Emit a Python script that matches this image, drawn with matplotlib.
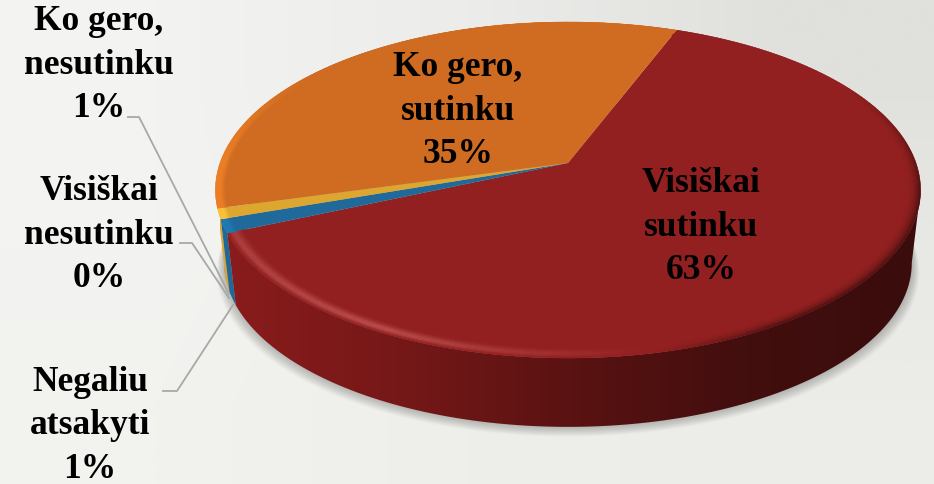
import numpy as np
import matplotlib
matplotlib.use("Agg")
import matplotlib.pyplot as plt
from matplotlib.collections import PolyCollection
from matplotlib.colors import LinearSegmentedColormap, to_rgb
from matplotlib.patches import Polygon
from matplotlib.transforms import Transform

# chart data, clockwise from the orange/red boundary
categories = ["Visiškai\nsutinku", "Negaliu\natsakyti", "Visiškai\nnesutinku",
              "Ko gero,\nnesutinku", "Ko gero,\nsutinku"]
values = [62.6, 1.3, 0.0, 1.0, 35.1]
top_colors = ["#932020", "#1f6a9a", "#2a7ab0", "#dca62f", "#d06c21"]
rim_colors = ["#932020", "#2079b6", "#2a7ab0", "#fbc33b", "#ee7f26"]
side_stops = [
    ["#8a1c1c", "#761818", "#5a1212", "#420e0e", "#3a0c0c"],
    ["#1f6a9a", "#1a5c88", "#164c70", "#123c58", "#103348"],
    ["#2a7ab0", "#1a5c88", "#164c70", "#123c58", "#103348"],
    ["#e0a52b", "#c8902a", "#a87824", "#80601c", "#604814"],
    ["#d26a1e", "#b85c1a", "#984c16", "#703810", "#50280c"],
]
START_CW = 21.0  # degrees clockwise from the top

W, H = 934, 484
CX, APEX_Y, RX, RY, PERSP = 568.0, 163.0, 348.0, 163.7, 0.1607
LOW_SCALE, LOW_APEX_Y = 0.975, 236.7
# where the disc outline is widest, the side wall is hidden beyond these
SIDE_FROM, SIDE_TO = 99.2, 260.8


def project(u, v, low=False):
    s = LOW_SCALE if low else 1.0
    y0 = LOW_APEX_Y if low else APEX_Y
    w = 1 + PERSP * v
    return CX + s * RX * u / w, y0 - s * RY * v / w


class PieTilt(Transform):
    input_dims = 2
    output_dims = 2

    def transform_non_affine(self, values):
        values = np.asarray(values, dtype=float)
        x, y = project(values[:, 0], values[:, 1])
        return np.column_stack([x, y])


def blend(c, target, k):
    return tuple((1 - k) * a + k * b for a, b in zip(c, target))


def red_rim(t):
    # + lighter on the front left, - darker on the right
    if t < 60:
        return 0.0
    if t < 100:
        return -0.75 * (t - 60) / 40
    if t < 150:
        return -0.75
    if t < 168:
        return -0.75 + 0.75 * (t - 150) / 18
    if t < 208:
        return 0.36 * (t - 168) / 40
    return 0.36 - 0.14 * (t - 208) / 42


fig = plt.figure(figsize=(W / 100, H / 100), dpi=100)
ax = fig.add_axes([0, 0, 1, 1])

# paper background
bg = np.array([
    [to_rgb("#f3f3f1"), to_rgb("#ececea"), to_rgb("#e0e0dd")],
    [to_rgb("#f3f3f1"), to_rgb("#efefec"), to_rgb("#e8e8e4")],
    [to_rgb("#f2f2ef"), to_rgb("#eeeeea"), to_rgb("#ecece8")],
])
ax.imshow(bg, extent=(0, W, H, 0), aspect="auto", interpolation="bilinear", zorder=0)

# soft shadow under the disc
th = np.radians(np.linspace(0, 360, 361))
for off in range(1, 13):
    sx, sy = project(np.sin(th), np.cos(th), low=True)
    sx = CX + (sx - CX) * (1 + off * 0.0018)
    ax.fill(sx, sy + off * 0.8, color="black", alpha=0.018, lw=0, zorder=1)

# slice sides, back ones first so red ends up in front
cum = START_CW + np.concatenate([[0], np.cumsum(values)]) * 3.6
for i in [4, 3, 2, 1, 0]:
    if values[i] == 0:
        continue
    a0, a1 = max(cum[i], SIDE_FROM), min(cum[i + 1], SIDE_TO)
    a = np.radians(np.linspace(a0, a1, 200))
    xt, yt = project(np.sin(a), np.cos(a))
    xb, yb = project(np.sin(a), np.cos(a), low=True)
    poly = Polygon(np.column_stack([np.r_[xt, xb[::-1]], np.r_[yt, yb[::-1]]]),
                   transform=ax.transData)
    cmap = LinearSegmentedColormap.from_list("side", side_stops[i])
    im = ax.imshow(np.linspace(0, 1, 256)[None, :], cmap=cmap, extent=(220, 925, H, 0),
                   aspect="auto", interpolation="bilinear", zorder=2)
    im.set_clip_path(poly)

# top face
wedges, _ = ax.pie(values, colors=top_colors, startangle=90 - START_CW, counterclock=False,
                   radius=1, wedgeprops={"linewidth": 0})
tilt = PieTilt() + ax.transData
for w in wedges:
    w.set_transform(tilt)
    w.set_zorder(3)

# bevel around the outer edge
polys, cols = [], []
for i, val in enumerate(values):
    if val == 0:
        continue
    rings = np.linspace(0.95 if i == 0 else 0.972, 1.0, 11)
    rim = to_rgb(rim_colors[i])
    face = to_rgb(top_colors[i])
    angles = np.arange(cum[i], cum[i + 1] + 0.5, 0.75)
    angles[-1] = min(angles[-1], cum[i + 1])
    for a0, a1 in zip(angles[:-1], angles[1:]):
        ra0, ra1 = np.radians(a0), np.radians(a1)
        mid = (a0 + a1) / 2
        k = red_rim(mid)
        fade = np.clip((305 - mid) / 35, 0, 1)  # orange rim dies out towards the back
        for j, (r0, r1) in enumerate(zip(rings[:-1], rings[1:])):
            q = [(r0, ra0), (r1, ra0), (r1, ra1), (r0, ra1)]
            pts = [project(r * np.sin(t), r * np.cos(t)) for r, t in q]
            f = (j + 0.5) / (len(rings) - 1)
            if i == 0:
                if k >= 0:
                    c = blend(face, (1, 0.62, 0.62), k * np.sin(np.pi * f ** 1.6) ** 1.5)
                else:
                    c = blend(face, (0.2, 0.04, 0.04), -k * f ** 3)
            else:
                c = blend(face, rim, min(1, 2.0 * f) * fade)
            polys.append(pts)
            cols.append(c)
ax.add_collection(PolyCollection(polys, facecolors=cols, edgecolors=cols, linewidths=0.3, zorder=4))

# leader lines
leader = "#a8a8a6"
ax.plot([128, 139, 229], [117, 117, 294], color=leader, lw=1.3, zorder=5)
ax.plot([180, 192, 229], [243, 243, 298], color=leader, lw=1.3, zorder=5)
ax.plot([163, 177, 233], [391, 391, 305], color=leader, lw=1.3, zorder=5)

# labels
label_xy = [(701, 227), (90, 426), (99, 235), (99, 65), (458, 111)]
for name, val, (lx, ly) in zip(categories, values, label_xy):
    ax.text(lx, ly, f"{name}\n{val:.0f}%", ha="center", va="center", family="Liberation Serif",
            fontweight="bold", fontsize=25.5, linespacing=1.42, color="black", zorder=6)

ax.set_aspect("auto")
ax.set_xlim(0, W)
ax.set_ylim(H, 0)
ax.axis("off")
fig.savefig("out.png", dpi=100)
